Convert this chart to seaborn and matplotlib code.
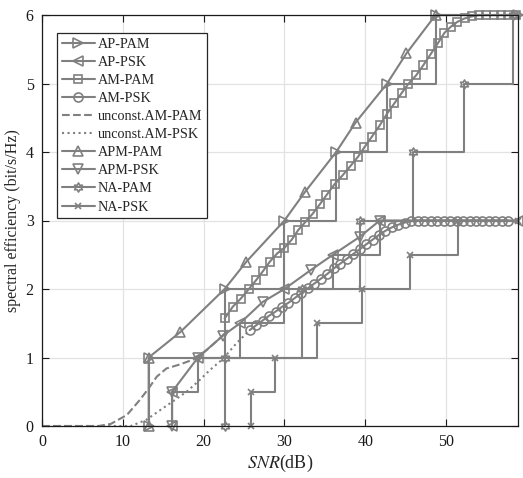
import numpy as np
import matplotlib
matplotlib.use('Agg')
import matplotlib.pyplot as plt
import seaborn as sns
from matplotlib.path import Path

# ---- data (SNR in dB, rate in bit/s/Hz) ----
ap_pam_x = [13.2, 13.2, 22.6, 30.0, 36.4, 42.7, 48.7, 58.9]
ap_pam_y = [0, 1, 2, 3, 4, 5, 6, 6]

ap_psk_x = [16.1, 16.1, 19.3, 24.5, 30.0, 36.0, 41.8, 58.9]
ap_psk_y = [0, 0.5, 1, 1.5, 2, 2.5, 3, 3]

am_pam_x = [22.6, 23.6, 24.6, 25.6, 26.5, 27.4, 28.2, 29.1, 30.0, 30.9, 31.7,
            32.6, 33.5, 34.4, 35.2, 36.2, 37.2, 38.2, 39.1, 39.9, 40.8, 41.8,
            42.7, 43.6, 44.5, 45.3, 46.3, 47.2, 48.1, 49.0, 49.8, 50.6, 51.4,
            52.3, 53.2, 54.1, 55.0, 55.9, 56.8, 57.7, 58.6]
am_pam_y = [1.57, 1.74, 1.86, 2.00, 2.13, 2.27, 2.40, 2.52, 2.60, 2.72, 2.86,
            2.98, 3.10, 3.24, 3.37, 3.53, 3.66, 3.80, 3.93, 4.07, 4.22, 4.39,
            4.56, 4.71, 4.86, 4.99, 5.12, 5.27, 5.43, 5.59, 5.74, 5.83, 5.90,
            5.95, 5.98, 6.0, 6.0, 6.0, 6.0, 6.0, 6.0]

am_psk_x = [25.7, 26.5, 27.3, 28.1, 28.9, 29.7, 30.5, 31.3, 32.1, 32.9, 33.7,
            34.5, 35.3, 36.1, 36.9, 37.7, 38.5, 39.3, 40.1, 40.9, 41.7, 42.5,
            43.3, 44.1, 44.9, 45.7, 46.5, 47.3, 48.1, 48.9, 49.7, 50.5, 51.3,
            52.1, 52.9, 53.7, 54.5, 55.3, 56.1, 56.9, 57.7]
am_psk_y = [1.40, 1.47, 1.54, 1.61, 1.67, 1.74, 1.80, 1.87, 1.94, 2.01, 2.08,
            2.15, 2.22, 2.30, 2.37, 2.44, 2.51, 2.58, 2.65, 2.72, 2.79, 2.85,
            2.90, 2.94, 2.97, 2.99, 3.0, 3.0, 3.0, 3.0, 3.0, 3.0, 3.0,
            3.0, 3.0, 3.0, 3.0, 3.0, 3.0, 3.0, 3.0]

unc_pam_x = [0, 5, 7.0, 8.5, 10.5, 12.1, 13.2, 14.2, 15.4, 17.1, 18.7, 20.4, 22.0, 23.0]
unc_pam_y = [0, 0, 0, 0.03, 0.16, 0.38, 0.55, 0.72, 0.84, 0.90, 0.97, 1.11, 1.28, 1.40]

unc_psk_x = [0, 5, 11.0, 12.9, 14.6, 16.2, 17.9, 19.5, 20.8, 22.4, 24.0, 25.7]
unc_psk_y = [0, 0, 0, 0.09, 0.23, 0.36, 0.50, 0.67, 0.82, 0.98, 1.20, 1.40]

apm_pam_x = [13.2, 13.2, 17.1, 22.6, 25.3, 30.0, 32.5, 36.4, 38.8, 42.7, 45.1, 48.7, 58.9]
apm_pam_y = [0, 1, 1.37, 2, 2.40, 3, 3.41, 4, 4.43, 5, 5.44, 6, 6]
apm_pam_marks = [0, 1, 2, 4, 6, 8, 10, 11]

apm_psk_x = [16.1, 16.1, 19.3, 22.4, 24.5, 27.3, 30.0, 33.3, 36.0, 39.3, 41.8, 58.9]
apm_psk_y = [0, 0.5, 1, 1.32, 1.5, 1.81, 2, 2.28, 2.5, 2.76, 3, 3]
apm_psk_marks = [0, 1, 2, 3, 5, 7, 9, 10]

na_pam_x = [22.6, 22.6, 32.2, 39.3, 45.9, 52.2, 58.3]
na_pam_y = [0, 1, 2, 3, 4, 5, 6]

na_psk_x = [25.8, 25.8, 28.8, 34.0, 39.6, 45.5, 51.5, 58.9]
na_psk_y = [0, 0.5, 1, 1.5, 2, 2.5, 3, 3]

x_ticks = [0, 10, 20, 30, 40, 50]
y_ticks = [0, 1, 2, 3, 4, 5, 6]

# ---- style ----
sns.set_style('ticks')
plt.rcParams['font.family'] = ['Liberation Serif', 'DejaVu Serif']
plt.rcParams['mathtext.fontset'] = 'stix'

gray = '#808080'
lw = 1.5
ms = 7

# hexagram marker
k = np.arange(12)
ang = np.deg2rad(90 + 30 * k)
rad = np.where(k % 2 == 0, 1.0, 0.577)
verts = np.column_stack([rad * np.cos(ang), rad * np.sin(ang)])
hexagram = Path(np.vstack([verts, verts[:1]]), closed=True)

fig = plt.figure(figsize=(5.23, 4.78), dpi=100)
ax = fig.add_axes([42 / 523, 1 - 426 / 478, 476 / 523, 411 / 478])

common = dict(ax=ax, estimator=None, sort=False, color=gray, linewidth=lw,
              markersize=ms, markerfacecolor='none', markeredgecolor=gray,
              markeredgewidth=1.2)

def with_size(size):
    return {**common, 'markersize': size}

sns.lineplot(x=ap_pam_x, y=ap_pam_y, marker='>', drawstyle='steps-post', label='AP-PAM', **common)
sns.lineplot(x=ap_psk_x, y=ap_psk_y, marker='<', drawstyle='steps-post', label='AP-PSK', **common)
sns.lineplot(x=am_pam_x, y=am_pam_y, marker='s', label='AM-PAM', **with_size(5.5))
sns.lineplot(x=am_psk_x, y=am_psk_y, marker='o', label='AM-PSK', **with_size(6.5))
sns.lineplot(x=unc_pam_x, y=unc_pam_y, linestyle='--', label='unconst.AM-PAM', **common)
sns.lineplot(x=unc_psk_x, y=unc_psk_y, linestyle=':', label='unconst.AM-PSK', **common)
sns.lineplot(x=apm_pam_x, y=apm_pam_y, marker='^', markevery=apm_pam_marks, label='APM-PAM', **common)
sns.lineplot(x=apm_psk_x, y=apm_psk_y, marker='v', markevery=apm_psk_marks, label='APM-PSK', **common)
sns.lineplot(x=na_pam_x, y=na_pam_y, marker=hexagram, drawstyle='steps-post', label='NA-PAM', **with_size(6.5))
sns.lineplot(x=na_psk_x, y=na_psk_y, marker='x', drawstyle='steps-post', label='NA-PSK', **with_size(5))

for ln in ax.get_lines():
    ln.set_clip_on(False)

ax.set_xlim(0, 58.9)
ax.set_ylim(0, 6)
ax.set_xticks(x_ticks)
ax.set_yticks(y_ticks)
ax.grid(True, color='#e2e2e2', linewidth=0.9)
ax.set_axisbelow(True)
for s in ax.spines.values():
    s.set_visible(True)
    s.set_color('#1a1a1a')
    s.set_linewidth(0.9)
ax.tick_params(direction='in', top=True, right=True, length=5, width=0.8,
               labelsize=11.5, colors='#1a1a1a', pad=6)

ax.set_xlabel('$SNR$(dB)', fontsize=13, labelpad=2)
ax.set_ylabel('spectral efficiency (bit/s/Hz)', fontsize=11.5, labelpad=3)

leg = ax.legend(loc='upper left', bbox_to_anchor=(0.0315, 0.957), borderaxespad=0,
                fontsize=10.2, frameon=True, fancybox=False, framealpha=1,
                edgecolor='#262626', handlelength=2.3, handletextpad=0.2,
                labelspacing=0.36, borderpad=0.35)
leg.get_frame().set_linewidth(0.9)

fig.savefig('out.png', dpi=100)
